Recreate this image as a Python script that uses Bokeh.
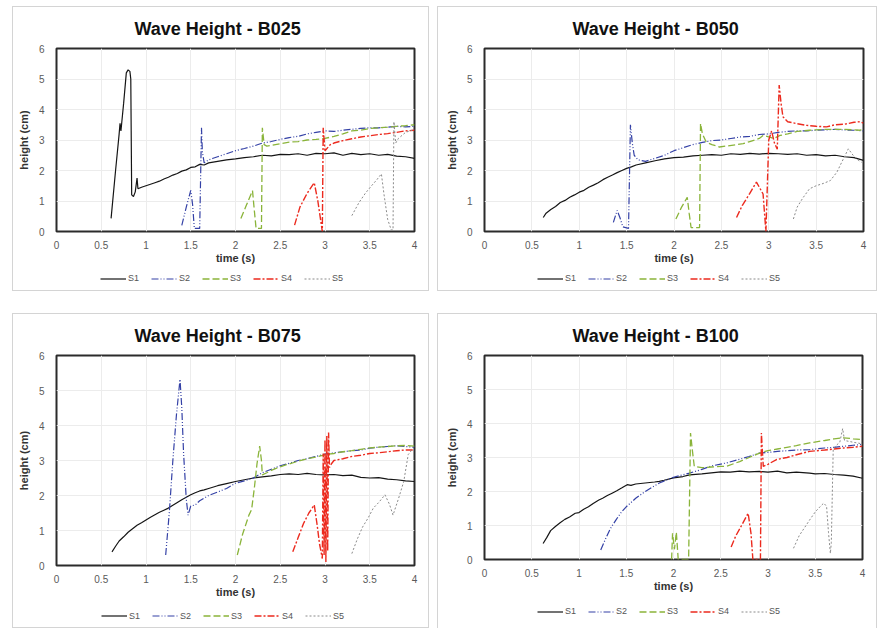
from bokeh.plotting import figure
from bokeh.models import Range1d, Legend, LegendItem, FixedTicker, Spacer, ColumnDataSource
from bokeh.layouts import row, column
from bokeh.embed import file_html
from bokeh.resources import INLINE

# ---------------- data (time s, height cm) ----------------
x_ticks = [0, 0.5, 1, 1.5, 2, 2.5, 3, 3.5, 4]
x_tick_labels = ["0", "0.5", "1", "1.5", "2", "2.5", "3", "3.5", "4"]
y_ticks = [0, 1, 2, 3, 4, 5, 6]
series_names = ["S1", "S2", "S3", "S4", "S5"]
panel_titles = ["Wave Height - B025", "Wave Height - B050", "Wave Height - B075", "Wave Height - B100"]

b025_s1 = [(0.61, 0.43), (0.66, 2.0), (0.70, 3.2), (0.71, 3.55), (0.72, 3.3), (0.73, 3.6), (0.75, 4.2),
           (0.78, 5.2), (0.80, 5.3), (0.82, 5.25), (0.83, 5.0), (0.84, 1.2), (0.86, 1.15), (0.88, 1.3),
           (0.90, 1.75), (0.91, 1.4), (0.95, 1.45), (1.0, 1.5), (1.05, 1.55), (1.1, 1.6), (1.15, 1.65),
           (1.2, 1.72), (1.25, 1.78), (1.3, 1.85), (1.35, 1.9), (1.4, 1.98), (1.45, 2.02), (1.5, 2.1),
           (1.55, 2.12), (1.6, 2.2), (1.65, 2.18), (1.7, 2.25), (1.8, 2.3), (1.9, 2.35), (2.0, 2.38),
           (2.1, 2.42), (2.2, 2.45), (2.3, 2.5), (2.4, 2.48), (2.5, 2.53), (2.6, 2.52), (2.7, 2.55),
           (2.8, 2.5), (2.9, 2.56), (3.0, 2.55), (3.1, 2.58), (3.2, 2.5), (3.3, 2.56), (3.4, 2.52),
           (3.5, 2.55), (3.6, 2.5), (3.7, 2.53), (3.8, 2.47), (3.9, 2.45), (4.0, 2.4)]
b025_s2 = [(1.40, 0.2), (1.45, 0.8), (1.50, 1.35), (1.52, 0.9), (1.54, 0.1), (1.60, 0.1), (1.62, 3.4),
           (1.63, 2.6), (1.65, 2.25), (1.7, 2.35), (1.75, 2.4), (1.8, 2.45), (1.9, 2.55), (2.0, 2.65),
           (2.1, 2.72), (2.2, 2.8), (2.3, 2.9), (2.4, 2.95), (2.5, 3.02), (2.6, 3.08), (2.7, 3.12),
           (2.8, 3.2), (2.9, 3.25), (3.0, 3.3), (3.1, 3.28), (3.2, 3.32), (3.3, 3.35), (3.4, 3.38),
           (3.5, 3.4), (3.6, 3.4), (3.7, 3.42), (3.8, 3.45), (3.9, 3.43), (4.0, 3.45)]
b025_s3 = [(2.06, 0.43), (2.12, 0.85), (2.19, 1.34), (2.21, 0.7), (2.23, 0.1), (2.29, 0.1), (2.30, 3.4),
           (2.32, 2.85), (2.35, 2.8), (2.4, 2.82), (2.5, 2.88), (2.6, 2.93), (2.7, 2.95), (2.8, 3.0),
           (2.9, 3.02), (3.0, 3.05), (3.1, 3.12), (3.2, 3.2), (3.3, 3.3), (3.4, 3.32), (3.5, 3.38),
           (3.6, 3.4), (3.7, 3.42), (3.8, 3.45), (3.9, 3.47), (4.0, 3.5)]
b025_s4 = [(2.66, 0.21), (2.72, 0.8), (2.80, 1.25), (2.88, 1.6), (2.92, 1.0), (2.97, 0.0), (2.98, 3.4),
           (3.0, 2.65), (3.03, 2.75), (3.06, 2.85), (3.1, 2.9), (3.2, 2.98), (3.3, 3.04), (3.4, 3.1),
           (3.5, 3.14), (3.6, 3.18), (3.7, 3.21), (3.8, 3.25), (3.9, 3.3), (4.0, 3.32)]
b025_s5 = [(3.30, 0.52), (3.38, 0.95), (3.45, 1.25), (3.52, 1.5), (3.58, 1.7), (3.63, 1.89), (3.66, 1.2),
           (3.70, 0.4), (3.74, 0.05), (3.76, 0.05), (3.77, 3.6), (3.79, 2.9), (3.82, 3.05), (3.86, 3.15),
           (3.9, 3.25), (3.95, 3.3), (4.0, 3.35)]

b050_s1 = [(0.62, 0.46), (0.65, 0.6), (0.7, 0.72), (0.75, 0.82), (0.8, 0.95), (0.85, 1.02), (0.9, 1.12),
           (0.95, 1.2), (1.0, 1.29), (1.05, 1.35), (1.1, 1.45), (1.15, 1.52), (1.2, 1.6), (1.25, 1.7),
           (1.3, 1.78), (1.35, 1.85), (1.4, 1.93), (1.45, 2.0), (1.5, 2.07), (1.55, 2.12), (1.6, 2.18),
           (1.7, 2.25), (1.8, 2.32), (1.9, 2.38), (2.0, 2.42), (2.1, 2.44), (2.2, 2.48), (2.3, 2.5),
           (2.4, 2.52), (2.5, 2.5), (2.6, 2.55), (2.7, 2.53), (2.8, 2.56), (2.9, 2.54), (3.0, 2.56),
           (3.1, 2.55), (3.2, 2.53), (3.3, 2.55), (3.4, 2.5), (3.5, 2.52), (3.6, 2.48), (3.7, 2.5),
           (3.8, 2.45), (3.9, 2.42), (4.0, 2.33)]
b050_s2 = [(1.36, 0.3), (1.40, 0.69), (1.43, 0.45), (1.46, 0.15), (1.52, 0.1), (1.54, 3.5), (1.56, 2.9),
           (1.58, 2.5), (1.62, 2.35), (1.7, 2.3), (1.8, 2.4), (1.9, 2.5), (2.0, 2.65), (2.1, 2.75),
           (2.2, 2.85), (2.3, 2.92), (2.4, 2.98), (2.5, 3.0), (2.6, 3.05), (2.7, 3.1), (2.8, 3.12),
           (2.9, 3.18), (3.0, 3.2), (3.1, 3.25), (3.2, 3.28), (3.3, 3.3), (3.4, 3.3), (3.5, 3.32),
           (3.6, 3.33), (3.7, 3.35), (3.8, 3.33), (3.9, 3.32), (4.0, 3.3)]
b050_s3 = [(2.02, 0.41), (2.08, 0.8), (2.14, 1.12), (2.16, 0.6), (2.18, 0.13), (2.27, 0.13), (2.28, 3.54),
           (2.30, 3.2), (2.34, 2.93), (2.4, 2.85), (2.48, 2.77), (2.55, 2.8), (2.65, 2.84), (2.73, 2.88),
           (2.8, 2.95), (2.9, 3.05), (2.94, 3.15), (3.0, 3.1), (3.05, 3.05), (3.12, 3.15), (3.2, 3.2),
           (3.3, 3.28), (3.43, 3.32), (3.6, 3.35), (3.8, 3.35), (3.96, 3.32), (4.0, 3.35)]
b050_s4 = [(2.66, 0.46), (2.72, 0.85), (2.80, 1.25), (2.87, 1.62), (2.94, 1.23), (2.97, 0.0), (3.0, 3.0),
           (3.03, 3.3), (3.06, 2.9), (3.09, 2.7), (3.11, 4.8), (3.13, 4.2), (3.15, 3.76), (3.2, 3.6),
           (3.29, 3.54), (3.4, 3.48), (3.5, 3.45), (3.61, 3.43), (3.7, 3.5), (3.8, 3.52), (3.9, 3.58),
           (3.96, 3.6), (4.0, 3.55)]
b050_s5 = [(3.26, 0.41), (3.3, 0.8), (3.36, 1.1), (3.43, 1.4), (3.5, 1.5), (3.58, 1.58), (3.65, 1.67),
           (3.72, 1.95), (3.77, 2.27), (3.84, 2.71), (3.89, 2.5), (3.94, 2.35), (3.98, 2.27)]

b075_s1 = [(0.62, 0.39), (0.66, 0.55), (0.7, 0.7), (0.75, 0.82), (0.8, 0.95), (0.85, 1.05), (0.9, 1.15),
           (0.95, 1.22), (1.0, 1.3), (1.05, 1.38), (1.1, 1.45), (1.15, 1.52), (1.2, 1.58), (1.25, 1.64),
           (1.3, 1.72), (1.35, 1.8), (1.4, 1.88), (1.45, 1.95), (1.5, 2.02), (1.55, 2.08), (1.6, 2.13),
           (1.65, 2.16), (1.7, 2.2), (1.8, 2.28), (1.9, 2.34), (2.0, 2.4), (2.1, 2.45), (2.2, 2.5),
           (2.3, 2.53), (2.4, 2.56), (2.5, 2.6), (2.6, 2.62), (2.7, 2.6), (2.8, 2.63), (2.9, 2.6),
           (3.0, 2.59), (3.1, 2.6), (3.2, 2.57), (3.3, 2.58), (3.4, 2.52), (3.5, 2.5), (3.6, 2.51),
           (3.7, 2.47), (3.8, 2.45), (3.9, 2.42), (4.0, 2.4)]
b075_s2 = [(1.22, 0.3), (1.26, 1.5), (1.30, 3.0), (1.34, 4.3), (1.38, 5.32), (1.40, 4.5), (1.42, 3.2),
           (1.45, 1.9), (1.47, 1.44), (1.50, 1.7), (1.55, 1.73), (1.6, 1.85), (1.7, 2.0), (1.8, 2.1),
           (1.9, 2.2), (2.0, 2.35), (2.1, 2.42), (2.2, 2.5), (2.3, 2.65), (2.4, 2.75), (2.5, 2.85),
           (2.6, 2.92), (2.7, 3.0), (2.8, 3.05), (2.9, 3.12), (3.0, 3.18), (3.1, 3.22), (3.2, 3.25),
           (3.3, 3.28), (3.4, 3.3), (3.5, 3.35), (3.6, 3.38), (3.7, 3.4), (3.8, 3.42), (3.9, 3.4),
           (4.0, 3.38)]
b075_s3 = [(2.02, 0.3), (2.08, 0.9), (2.15, 1.44), (2.18, 1.6), (2.21, 2.2), (2.24, 2.9), (2.27, 3.41),
           (2.29, 3.0), (2.30, 2.59), (2.35, 2.65), (2.4, 2.72), (2.5, 2.82), (2.57, 2.88), (2.7, 2.98),
           (2.8, 3.05), (2.9, 3.1), (3.01, 3.17), (3.1, 3.2), (3.2, 3.25), (3.3, 3.28), (3.4, 3.32),
           (3.5, 3.36), (3.6, 3.38), (3.7, 3.4), (3.8, 3.42), (3.9, 3.43), (4.0, 3.41)]
b075_s4 = [(2.64, 0.39), (2.70, 0.8), (2.76, 1.2), (2.82, 1.5), (2.88, 1.73), (2.91, 1.2), (2.94, 0.6),
           (2.97, 0.2), (2.98, 3.2), (2.99, 0.3), (3.0, 3.6), (3.01, 0.1), (3.02, 3.7), (3.03, 0.4),
           (3.04, 3.8), (3.05, 2.8), (3.07, 2.9), (3.1, 3.0), (3.2, 3.05), (3.31, 3.12), (3.4, 3.15),
           (3.5, 3.2), (3.6, 3.22), (3.7, 3.25), (3.8, 3.28), (3.9, 3.3), (4.0, 3.3)]
b075_s5 = [(3.30, 0.34), (3.36, 0.75), (3.42, 1.1), (3.48, 1.35), (3.54, 1.64), (3.6, 1.8), (3.67, 2.02),
           (3.72, 1.75), (3.76, 1.44), (3.82, 1.9), (3.88, 2.4), (3.93, 3.17), (3.97, 3.3)]

b100_s1 = [(0.62, 0.47), (0.66, 0.65), (0.7, 0.85), (0.75, 0.97), (0.8, 1.08), (0.85, 1.18), (0.9, 1.25),
           (0.96, 1.36), (1.0, 1.38), (1.05, 1.48), (1.1, 1.55), (1.15, 1.65), (1.21, 1.75), (1.25, 1.8),
           (1.3, 1.88), (1.35, 1.95), (1.4, 2.02), (1.45, 2.1), (1.51, 2.2), (1.55, 2.18), (1.6, 2.22),
           (1.7, 2.25), (1.8, 2.28), (1.85, 2.3), (1.9, 2.33), (2.0, 2.4), (2.1, 2.44), (2.17, 2.49),
           (2.3, 2.52), (2.4, 2.55), (2.5, 2.58), (2.6, 2.57), (2.7, 2.6), (2.8, 2.58), (2.91, 2.59),
           (3.0, 2.57), (3.1, 2.6), (3.2, 2.55), (3.3, 2.57), (3.44, 2.54), (3.5, 2.52), (3.6, 2.53),
           (3.7, 2.5), (3.8, 2.48), (3.9, 2.45), (4.0, 2.39)]
b100_s2 = [(1.23, 0.28), (1.28, 0.6), (1.33, 0.9), (1.39, 1.16), (1.45, 1.4), (1.5, 1.55), (1.6, 1.8),
           (1.7, 2.0), (1.85, 2.25), (2.0, 2.42), (2.17, 2.54), (2.3, 2.65), (2.4, 2.75), (2.56, 2.84),
           (2.7, 2.95), (2.8, 3.03), (2.91, 3.13), (3.0, 3.15), (3.1, 3.18), (3.2, 3.2), (3.3, 3.22),
           (3.44, 3.23), (3.6, 3.28), (3.7, 3.3), (3.8, 3.33), (3.9, 3.36), (4.0, 3.38)]
b100_s3 = [(1.98, 0.0), (1.99, 0.77), (2.01, 0.3), (2.03, 0.8), (2.05, 0.0), (2.16, 0.0), (2.18, 3.72),
           (2.20, 3.2), (2.22, 2.74), (2.3, 2.7), (2.4, 2.72), (2.5, 2.74), (2.56, 2.74), (2.7, 2.88),
           (2.8, 3.0), (2.91, 3.13), (3.0, 3.2), (3.1, 3.25), (3.2, 3.3), (3.3, 3.35), (3.44, 3.43),
           (3.6, 3.5), (3.7, 3.55), (3.8, 3.58), (3.9, 3.55), (4.0, 3.53)]
b100_s4 = [(2.61, 0.37), (2.66, 0.7), (2.72, 1.0), (2.79, 1.36), (2.82, 0.77), (2.84, 0.0), (2.92, 0.0),
           (2.93, 3.72), (2.95, 2.74), (3.0, 2.8), (3.09, 2.94), (3.2, 3.0), (3.3, 3.08), (3.44, 3.18),
           (3.6, 3.22), (3.7, 3.25), (3.8, 3.28), (3.9, 3.3), (4.0, 3.33)]
b100_s5 = [(3.27, 0.33), (3.33, 0.7), (3.39, 0.95), (3.44, 1.16), (3.5, 1.4), (3.55, 1.55), (3.59, 1.66),
           (3.62, 1.56), (3.64, 0.8), (3.66, 0.18), (3.67, 0.5), (3.69, 3.23), (3.72, 3.35), (3.76, 3.45),
           (3.79, 3.85), (3.81, 3.5), (3.9, 3.45), (4.0, 3.4)]

panel_series = [
    [b025_s1, b025_s2, b025_s3, b025_s4, b025_s5],
    [b050_s1, b050_s2, b050_s3, b050_s4, b050_s5],
    [b075_s1, b075_s2, b075_s3, b075_s4, b075_s5],
    [b100_s1, b100_s2, b100_s3, b100_s4, b100_s5],
]

# ---------------- styles ----------------
COLORS = ["#151515", "#3441a6", "#8ab43a", "#ec2a1e", "#8a8a8a"]
DASHES = ["solid", "7 2 1 2 1 2", "7 3", "7 2 2 2", "2 2"]
WIDTHS = [1.2, 1.2, 1.3, 1.4, 1.0]
FONT = "Liberation Sans"
BOX = "1px solid #d4d4d4"


def make_panel(title, series, fw, fh, ml, mr, mb, title_left, leg_h, leg_left):
    p = figure(frame_width=fw, frame_height=fh, x_range=Range1d(0, 4), y_range=Range1d(0, 6),
               output_backend="svg", toolbar_location=None,
               min_border_left=ml, min_border_right=mr, min_border_top=41, min_border_bottom=mb,
               background_fill_color="white", border_fill_color="white",
               styles={"border": BOX, "border-bottom": "none"})
    p.title.text = title
    p.title.align = "left"
    p.title.offset = title_left
    p.title.text_font = FONT
    p.title.text_font_size = "18px"
    p.title.text_font_style = "bold"
    p.title.text_color = "#111111"
    p.title.standoff = 19

    p.outline_line_color = "#2b2b2b"
    p.outline_line_width = 2

    p.xaxis.ticker = FixedTicker(ticks=x_ticks)
    p.xaxis.major_label_overrides = {t: l for t, l in zip(x_ticks, x_tick_labels)}
    p.yaxis.ticker = FixedTicker(ticks=y_ticks)
    for ax in (p.xaxis[0], p.yaxis[0]):
        ax.axis_line_color = None
        ax.major_tick_line_color = None
        ax.minor_tick_line_color = None
        ax.major_tick_out = 0
        ax.major_tick_in = 0
        ax.major_label_text_font = FONT
        ax.major_label_text_font_size = "10px"
        ax.major_label_text_color = "#5a5a5a"
        ax.axis_label_text_font = FONT
        ax.axis_label_text_font_size = "11px"
        ax.axis_label_text_font_style = "bold"
        ax.axis_label_text_color = "#333333"
    p.xaxis.axis_label = "time (s)"
    p.yaxis.axis_label = "height (cm)"
    p.xaxis.major_label_standoff = 9
    p.xaxis.axis_label_standoff = 0
    p.yaxis.major_label_standoff = 12
    p.yaxis.axis_label_standoff = 6

    p.xgrid.grid_line_color = "#ececec"
    p.ygrid.grid_line_color = "#ececec"

    # legend strip below the chart, inside the same bordered box; its lines reuse the
    # series sources but its x range lies outside the data, so only the legend shows
    total_w = ml + fw + mr
    q = figure(frame_width=total_w, frame_height=leg_h, x_range=Range1d(10, 11), y_range=Range1d(0, 6),
               x_axis_type=None, y_axis_type=None, output_backend="svg", toolbar_location=None,
               min_border_left=0, min_border_right=0, min_border_top=0, min_border_bottom=0,
               background_fill_color="white", border_fill_color="white",
               styles={"border": BOX, "border-top": "none"})
    q.outline_line_color = None
    q.title.visible = False

    items = []
    for name, data, c, d, lw in zip(series_names, series, COLORS, DASHES, WIDTHS):
        src = ColumnDataSource(dict(t=[pt[0] for pt in data], h=[pt[1] for pt in data]))
        p.line("t", "h", source=src, line_color=c, line_dash=d, line_width=lw)
        r = q.line("t", "h", source=src, line_color=c, line_dash=d, line_width=lw)
        items.append(LegendItem(label=name, renderers=[r]))

    leg = Legend(items=items, orientation="horizontal", location="left")
    leg.label_text_font = FONT
    leg.label_text_font_size = "9px"
    leg.label_text_color = "#555555"
    leg.glyph_width = 26
    leg.glyph_height = 9
    leg.label_height = 9
    leg.label_width = 11
    leg.label_standoff = 2
    leg.spacing = 12
    leg.padding = 0
    leg.margin = leg_left
    leg.border_line_color = None
    leg.background_fill_alpha = 0
    q.add_layout(leg)
    return column(p, q, spacing=0)


c1 = make_panel(panel_titles[0], panel_series[0], 356, 182, 43, 16, 31, 78, 25, 87)
c2 = make_panel(panel_titles[1], panel_series[1], 377, 182, 46, 15, 31, 88, 25, 99)
c3 = make_panel(panel_titles[2], panel_series[2], 356, 209, 43, 16, 39, 78, 24, 88)
c4 = make_panel(panel_titles[3], panel_series[3], 376, 203, 46, 16, 31, 88, 35, 99)

layout = column(
    Spacer(height=6, width=10),
    row(Spacer(width=12, height=10), c1, Spacer(width=8, height=10), c2),
    Spacer(height=22, width=10),
    row(Spacer(width=12, height=10), c3, Spacer(width=8, height=10), c4),
)

open("out.html", "w").write(file_html(layout, INLINE))
